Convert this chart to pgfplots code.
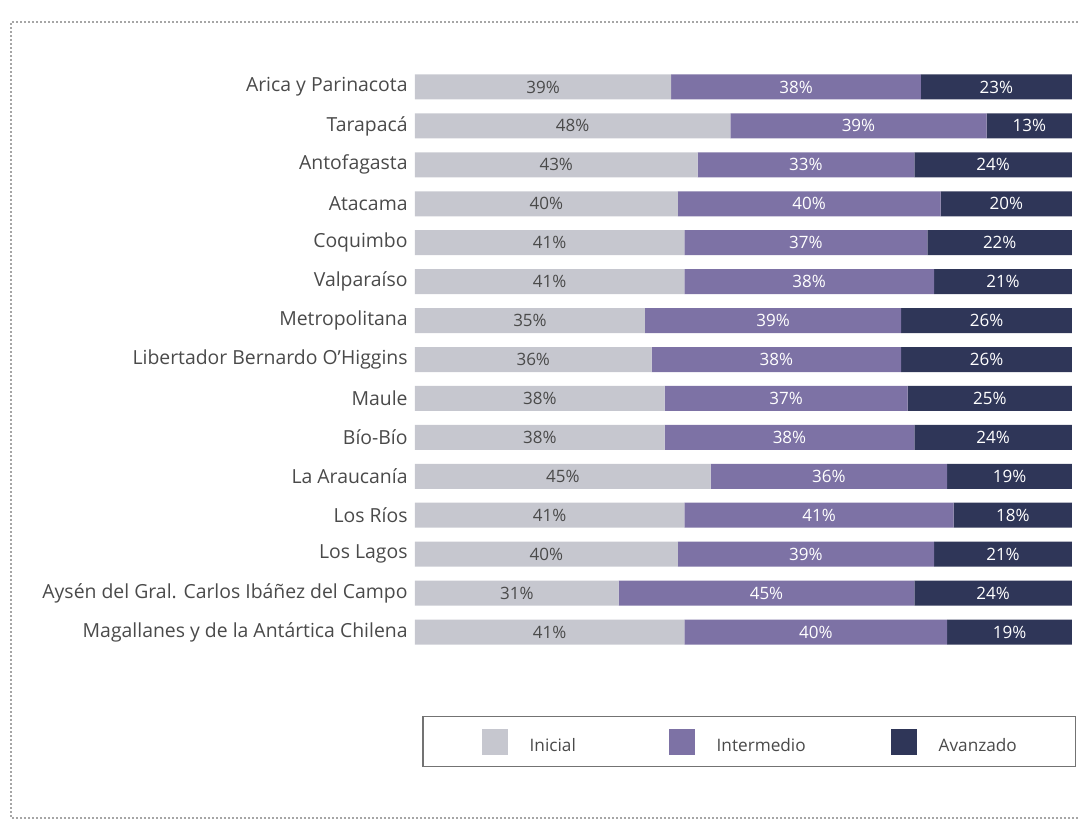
\documentclass[border=0pt]{standalone}
\usepackage{fontspec}
\setmainfont{Open Sans}
\usepackage{pgfplots}
\usepackage{pgfplotstable}
\pgfplotsset{compat=1.18}
\definecolor{ini}{HTML}{C6C7CF}
\definecolor{inter}{HTML}{7D72A5}
\definecolor{avan}{HTML}{2F3658}
\definecolor{txt}{HTML}{4A4A4A}
\pgfplotstableread{
idx a b c
0 39 38 23
1 48 39 13
2 43 33 24
3 40 40 20
4 41 37 22
5 41 38 21
6 35 39 26
7 36 38 26
8 38 37 25
9 38 38 24
10 45 36 19
11 41 41 18
12 40 39 21
13 31 45 24
14 41 40 19
}\data
\begin{document}
\begin{tikzpicture}
\useasboundingbox (0,0) rectangle (539pt,410.5pt);
\draw[gray!70, line width=0.9pt, dash pattern=on 0.9pt off 1.1pt] (539pt,399.5pt) -- (5.5pt,399.5pt) -- (5.5pt,1.5pt) -- (539pt,1.5pt);
\pgfplotsset{common/.style={scale only axis, width=328.5pt, height=292pt, at={(207.5pt,84.75pt)}, anchor=south west, xmin=0, xmax=100, ymin=-0.5, ymax=14.5, y dir=reverse, enlargelimits=false}}
\begin{axis}[common, xbar stacked, bar width=12.5pt,
  axis line style={draw=none}, xtick=\empty, ytick={0,...,14},
  yticklabels={Arica y Parinacota, Tarapacá, Antofagasta, Atacama, Coquimbo, Valparaíso, Metropolitana, Libertador Bernardo O’Higgins, Maule, Bío-Bío, La Araucanía, Los Ríos, Los Lagos, Aysén del Gral. Carlos Ibáñez del Campo, Magallanes y de la Antártica Chilena},
  major tick length=0pt,
  yticklabel style={font=\fontsize{9.7}{11}\selectfont, text=txt, inner sep=0pt, xshift=-3.5pt},
  legend image code/.code={\fill[#1,draw=none] (0pt,-4pt) rectangle (13pt,9pt);},
  legend style={at={(0.01142,-0.11045)}, anchor=north west, legend columns=3, draw=gray!90!black, line width=0.7pt,
    inner xsep=29.25pt, inner ysep=6pt, font=\fontsize{8.6}{10}\selectfont, text=txt, nodes={inner sep=0pt},
    /tikz/every odd column/.append style={column sep=11pt},
    /tikz/every even column/.append style={column sep=0pt}},
  legend cell align=left]
\addplot[fill=ini, draw=none] table[x=a,y=idx]{\data};
\addplot[fill=inter, draw=none] table[x=b,y=idx]{\data};
\addplot[fill=avan, draw=none] table[x=c,y=idx]{\data};
\addlegendentry{\makebox[69.5pt][l]{Inicial}}
\addlegendentry{\makebox[87pt][l]{Intermedio}}
\addlegendentry{Avanzado}
\end{axis}
\begin{axis}[common, hide axis, point meta=explicit,
  /pgf/number format/assume math mode=true,
  nodes near coords={\pgfmathprintnumber{\pgfplotspointmeta}\%},
  every node near coord/.append style={anchor=center, inner sep=0pt, font=\fontsize{8.5}{10}\selectfont}]
\addplot[only marks, mark=*, mark size=0pt, mark options={draw=none,fill=none}, every node near coord/.append style={text=txt}] table[x expr=\thisrow{a}/2, y=idx, meta=a]{\data};
\addplot[only marks, mark=*, mark size=0pt, mark options={draw=none,fill=none}, every node near coord/.append style={text=white}] table[x expr=\thisrow{a}+\thisrow{b}/2, y=idx, meta=b]{\data};
\addplot[only marks, mark=*, mark size=0pt, mark options={draw=none,fill=none}, every node near coord/.append style={text=white}] table[x expr=\thisrow{a}+\thisrow{b}+\thisrow{c}/2, y=idx, meta=c]{\data};
\end{axis}
\end{tikzpicture}
\end{document}
